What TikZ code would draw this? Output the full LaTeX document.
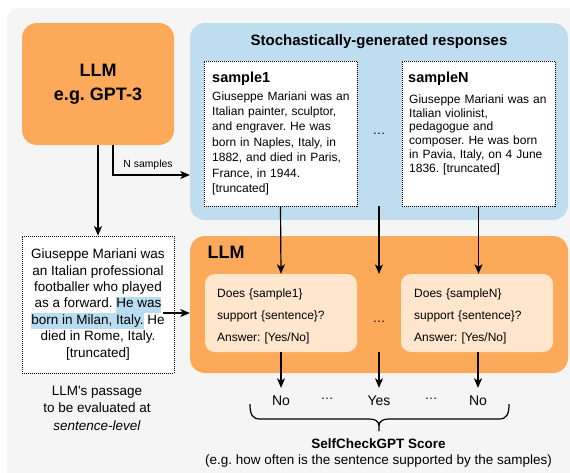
\documentclass[tikz,border=0pt]{standalone}
\usepackage{fontspec}
\setmainfont{Liberation Sans}[Ligatures=TeXOff]
\usetikzlibrary{arrows.meta}
\definecolor{bgc}{RGB}{245,245,245}
\definecolor{orng}{RGB}{252,170,90}
\definecolor{blu}{RGB}{190,222,240}
\definecolor{peach}{RGB}{255,230,204}
\definecolor{hlc}{RGB}{185,221,240}
\newcommand{\hlt}[1]{{\setlength{\fboxsep}{0pt}\colorbox{hlc}{\strut #1}}}
\frenchspacing
\begin{document}
\frenchspacing
\begin{tikzpicture}[x=1pt,y=-1pt,
  arr/.style={-{Stealth[length=9.5pt,width=8pt,inset=2.5pt]}, line width=1.2pt},
  dotbox/.style={draw, line width=0.9pt, dash pattern=on 1pt off 1pt, fill=white, inner sep=0pt},
  orngbox/.style={fill=orng, rounded corners=15pt, inner sep=0pt},
  bluebox/.style={fill=blu, rounded corners=15pt, inner sep=0pt},
  peachbox/.style={fill=peach, rounded corners=10pt, inner sep=0pt},
  txt/.style={anchor=base west, inner sep=0pt, align=left},
  ptxt/.style={anchor=base west, inner sep=0pt, text width=142pt, align=left},
  outn/.style={font=\fontsize{14}{16}\selectfont, inner xsep=2pt, inner ysep=7pt, text height=10pt, text depth=0pt},
  dotsn/.style={font=\fontsize{13}{15}\selectfont, inner sep=0pt}]
\useasboundingbox (0,0) rectangle (570,472);
\begin{scope}
  \clip (0,0) rectangle (570,472);
  \fill[bgc, rounded corners=12pt] (7,8) rectangle (600,500);
\end{scope}

% generator LLM
\node[orngbox, minimum width=152, minimum height=122, align=center,
      font=\bfseries\fontsize{18}{24}\selectfont] (llm) at (98,84) {LLM\\e.g. GPT-3};

% responses
\node[bluebox, minimum width=378, minimum height=197] (resp) at (379,121.5) {};
\node[font=\bfseries\fontsize{15}{18}\selectfont] (rtitle) at (379,42) {Stochastically-generated responses};

\node[dotbox, minimum width=153, minimum height=145] (s1) at (280.5,133.5) {};
\node[txt, font=\bfseries\fontsize{14.5}{17}\selectfont] (s1t) at (212,82) {sample1};
\node[ptxt, font=\fontsize{12}{15.4}\selectfont] (s1b) at (212,100) {Giuseppe Mariani was an\\Italian painter, sculptor,\\and engraver. He was\\born in Naples, Italy, in\\1882, and died in Paris,\\France, in 1944.\\{[truncated]}};

\node[dotbox, minimum width=153, minimum height=145] (sN) at (478.5,133.5) {};
\node[txt, font=\bfseries\fontsize{14.5}{17}\selectfont] (sNt) at (408,82) {sampleN};
\node[ptxt, font=\fontsize{12}{13.8}\selectfont] (sNb) at (409,103.3) {Giuseppe Mariani was an\\Italian violinist,\\pedagogue and\\composer. He was born\\in Pavia, Italy, on 4 June\\1836. [truncated]};

\node[dotsn] (rdots) at (379,134) {…};

% N samples connector
\coordinate (ns) at (113,175);
\draw[arr] (llm.south -| ns) |- (resp.west |- ns);
\node[font=\fontsize{10.4}{12}\selectfont] (nlab) at (148,165) {N samples};

% passage
\node[dotbox, minimum width=152, minimum height=137, align=center,
      font=\fontsize{13.5}{16.4}\selectfont] (pass) at (98,304.5)
  {Giuseppe Mariani was\\an Italian professional\\footballer who played\\as a forward. \hlt{He was}\\\hlt{born in Milan, Italy.} He\\died in Rome, Italy.\\{[truncated]}};
\draw[arr] (llm.south) -- (pass.north);
\node[align=center, font=\fontsize{13.5}{17.5}\selectfont] (cap) at (97,408)
  {LLM's passage\\to be evaluated at\\\textit{sentence-level}};

% checking LLM
\node[orngbox, minimum width=378, minimum height=137] (llm2) at (379,304.5) {};
\node[font=\bfseries\fontsize{18}{22}\selectfont] (llm2t) at (226,252) {LLM};
\coordinate (pa) at (163,313);
\draw[arr] (pa) -- (llm2.west |- pa);

\node[peachbox, minimum width=152, minimum height=78] (q1) at (281,313) {};
\node[ptxt, font=\fontsize{12}{22}\selectfont] (q1t) at (217,297) {Does \{sample1\}\\support \{sentence\}?\\Answer: [Yes/No]};
\node[peachbox, minimum width=152, minimum height=78] (qN) at (477,313) {};
\node[ptxt, font=\fontsize{12}{22}\selectfont] (qNt) at (414,297) {Does \{sampleN\}\\support \{sentence\}?\\Answer: [Yes/No]};
\node[dotsn] (qdots) at (379,322) {…};

\draw[arr] (s1.south) -- (q1.north);
\draw[arr] (sN.south) -- (sN.south |- qN.north);
\coordinate (mtop) at (379,206);
\coordinate (mbot) at (379,274);
\draw[arr] (mtop) -- (mbot);

% outputs
\node[outn] (o1) at (281,400) {No};
\node[outn] (om) at (379,400) {Yes};
\node[outn] (oN) at (478,400) {No};
\node[dotsn] (od1) at (327,399) {…};
\node[dotsn] (od2) at (431,399) {…};
\draw[arr] (q1.south) -- (o1.north);
\draw[arr] (qdots |- q1.south) -- (om.north);
\draw[arr] (qN.south -| oN) -- (oN.north);

% brace
\draw[line width=1.2pt] (250,404) .. controls (250,414) and (252,419) .. (260,419) -- (369,419)
  .. controls (375,419) and (379,421) .. (379,426) -- (379,431)
  (379,426) .. controls (379,421) and (383,419) .. (389,419) -- (499,419)
  .. controls (507,419) and (509,414) .. (509,404);

\node[align=center, font=\fontsize{13.5}{17}\selectfont] (score) at (378.5,453)
  {{\bfseries SelfCheckGPT Score}\\(e.g. how often is the sentence supported by the samples)};
\end{tikzpicture}
\end{document}
